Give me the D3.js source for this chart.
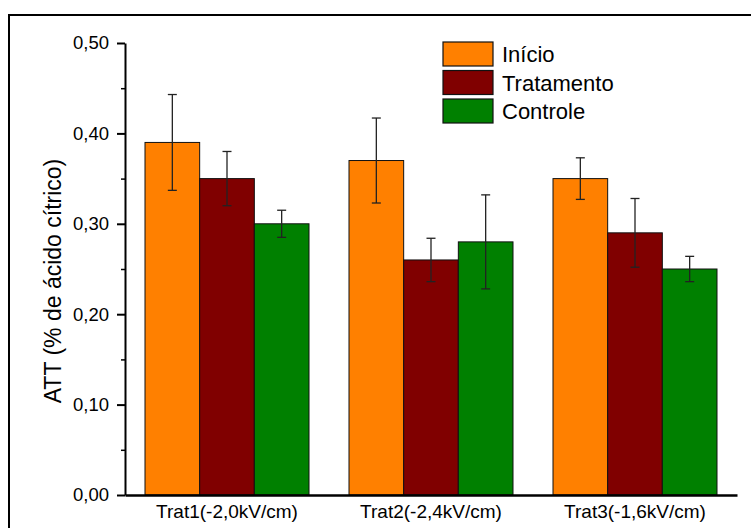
<!DOCTYPE html>
<html lang="pt">
<head>
<meta charset="UTF-8">
<title>ATT</title>
<script src="https://d3js.org/d3.v7.min.js"></script>
<style>
  body { margin: 0; background: #fff; }
  svg text { font-family: Arial, "Liberation Sans", sans-serif; fill: #000; }
</style>
</head>
<body>
<div id="chart"></div>
<script>
    // data
    var groups = ["Trat1(-2,0kV/cm)", "Trat2(-2,4kV/cm)", "Trat3(-1,6kV/cm)"];
    var series = ["Início", "Tratamento", "Controle"];
    var colors = ["#ff8000", "#800000", "#008000"];
    var inicio = [0.39, 0.37, 0.35];
    var tratamento = [0.35, 0.26, 0.29];
    var controle = [0.30, 0.28, 0.25];
    var errInicio = [0.053, 0.047, 0.023];
    var errTratamento = [0.030, 0.024, 0.038];
    var errControle = [0.015, 0.052, 0.014];
    var yTicks = [0, 0.1, 0.2, 0.3, 0.4, 0.5];
    var yMinorTicks = [0.05, 0.15, 0.25, 0.35, 0.45];

    var values = [inicio, tratamento, controle];
    var errors = [errInicio, errTratamento, errControle];

    var width = 751, height = 528;
    var plot = {left: 125, right: 737, top: 43, bottom: 495};

    var svg = d3.select("#chart").append("svg")
        .attr("width", width)
        .attr("height", height);

    // frame
    svg.append("rect")
        .attr("x", 9).attr("y", 15)
        .attr("width", 760).attr("height", 540)
        .attr("fill", "none")
        .attr("stroke", "#000")
        .attr("stroke-width", 2);

    var x0 = d3.scaleBand()
        .domain(groups)
        .range([plot.left, plot.right])
        .paddingInner(40 / 204)
        .paddingOuter(20 / 204);

    var x1 = d3.scaleBand()
        .domain(series)
        .range([0, x0.bandwidth()]);

    var y = d3.scaleLinear()
        .domain([0, 0.5])
        .range([plot.bottom, plot.top]);

    var rows = [];
    groups.forEach(function (g, i) {
        series.forEach(function (s, j) {
            rows.push({group: g, series: s, value: values[j][i], err: errors[j][i], color: colors[j]});
        });
    });

    // bars
    svg.append("g")
        .selectAll("rect")
        .data(rows)
        .enter()
        .append("rect")
        .attr("x", function (d) { return x0(d.group) + x1(d.series); })
        .attr("y", function (d) { return y(d.value); })
        .attr("width", x1.bandwidth())
        .attr("height", function (d) { return y(0) - y(d.value); })
        .attr("fill", function (d) { return d.color; })
        .attr("stroke", "#111")
        .attr("stroke-width", 1);

    // error bars
    var eb = svg.append("g")
        .attr("stroke", "#222")
        .attr("stroke-width", 1.3)
        .selectAll("g")
        .data(rows)
        .enter()
        .append("g")
        .attr("transform", function (d) {
            return "translate(" + (x0(d.group) + x1(d.series) + x1.bandwidth() / 2) + ",0)";
        });
    eb.append("line")
        .attr("y1", function (d) { return y(d.value + d.err); })
        .attr("y2", function (d) { return y(d.value - d.err); });
    eb.append("line")
        .attr("x1", -4.5).attr("x2", 4.5)
        .attr("y1", function (d) { return y(d.value + d.err); })
        .attr("y2", function (d) { return y(d.value + d.err); });
    eb.append("line")
        .attr("x1", -4.5).attr("x2", 4.5)
        .attr("y1", function (d) { return y(d.value - d.err); })
        .attr("y2", function (d) { return y(d.value - d.err); });

    // Y axis
    var fmt = function (v) { return d3.format(".2f")(v).replace(".", ","); };
    var yAxis = svg.append("g")
        .attr("transform", "translate(" + plot.left + ",0)")
        .call(d3.axisLeft(y).tickValues(yTicks).tickFormat(fmt).tickSize(8).tickSizeOuter(0).tickPadding(8));
    yAxis.select(".domain").attr("stroke-width", 2);
    yAxis.selectAll(".tick line").attr("stroke-width", 2);
    yAxis.selectAll("text").attr("font-size", 18.5);

    svg.append("g")
        .attr("transform", "translate(" + plot.left + ",0)")
        .call(d3.axisLeft(y).tickValues(yMinorTicks).tickFormat("").tickSize(4))
        .call(function (g) { g.select(".domain").remove(); })
        .selectAll(".tick line").attr("stroke-width", 1.5);

    // X axis
    var xAxis = svg.append("g")
        .attr("transform", "translate(0," + plot.bottom + ")")
        .call(d3.axisBottom(x0).tickSize(0).tickPadding(10));
    xAxis.select(".domain").attr("stroke-width", 2.5);
    xAxis.selectAll("text").attr("font-size", 19);

    // Y title
    svg.append("text")
        .attr("transform", "translate(61,281) rotate(-90)")
        .attr("text-anchor", "middle")
        .attr("font-size", 23)
        .text("ATT (% de ácido cítrico)");

    // legend
    var legend = svg.append("g")
        .selectAll("g")
        .data(series)
        .enter()
        .append("g")
        .attr("transform", function (d, i) { return "translate(443," + (42 + i * 28.5) + ")"; });
    legend.append("rect")
        .attr("width", 50)
        .attr("height", 24)
        .attr("fill", function (d, i) { return colors[i]; })
        .attr("stroke", "#111")
        .attr("stroke-width", 1.2);
    legend.append("text")
        .attr("x", 59)
        .attr("y", 20)
        .attr("font-size", 22)
        .text(function (d) { return d; });
</script>
</body>
</html>
